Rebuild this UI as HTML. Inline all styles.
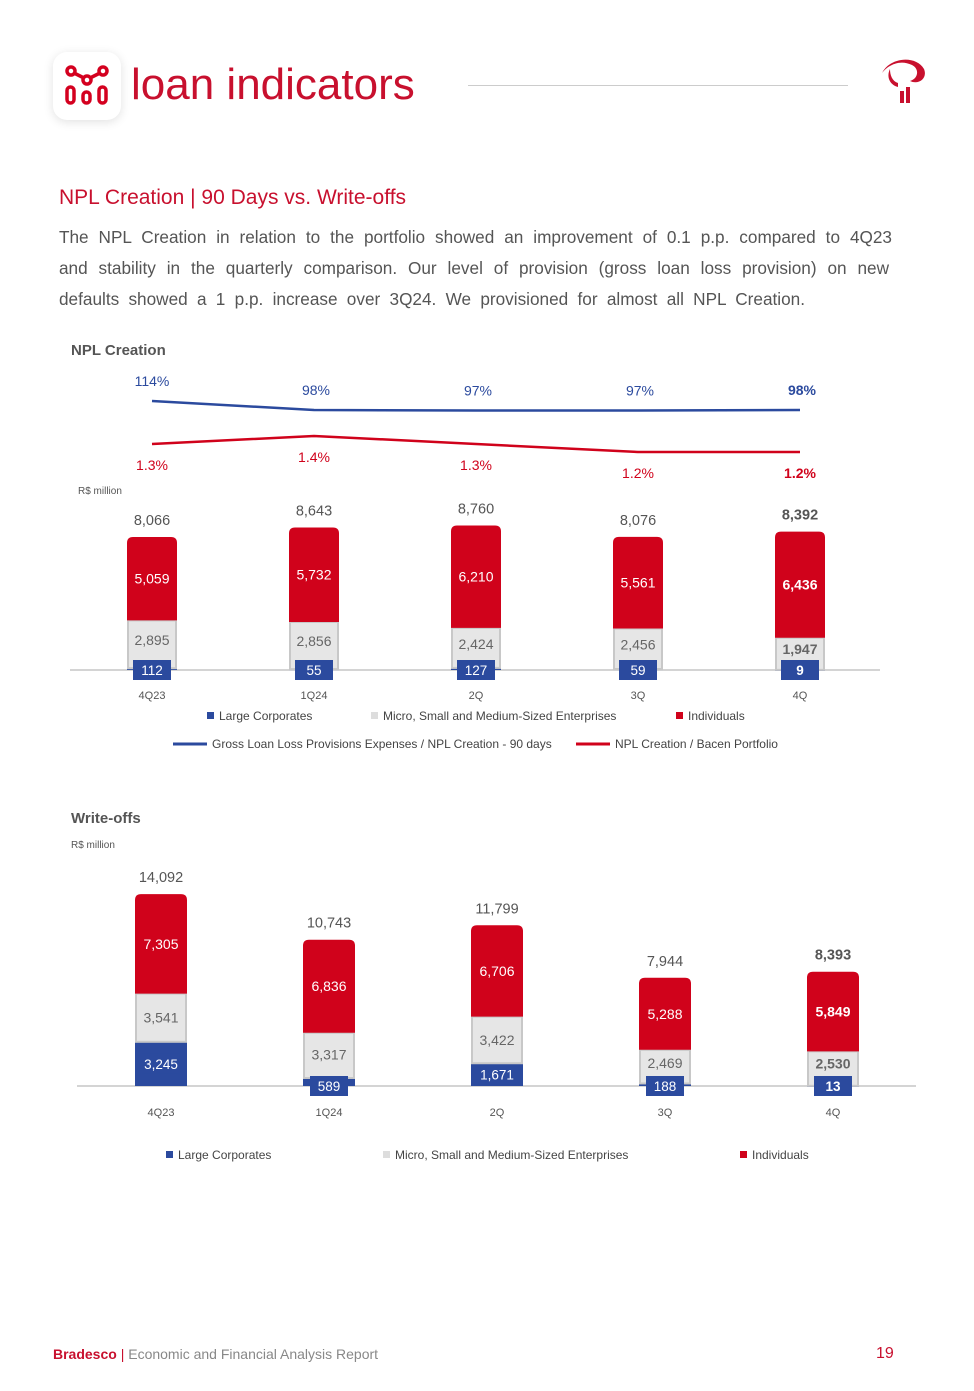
<!DOCTYPE html>
<html><head><meta charset="utf-8">
<style>
body{margin:0;width:974px;height:1391px;background:#fff;font-family:"Liberation Sans",sans-serif;position:relative;overflow:hidden}
.a{position:absolute;margin:0}
.ln{position:absolute;left:59px;font-size:17.2px;color:#555;white-space:nowrap;text-align:justify;text-align-last:justify}
</style></head><body>
<div class="a" style="left:53px;top:52px;width:68px;height:68px;border-radius:14px;background:#fff;box-shadow:0 2px 10px rgba(0,0,0,0.12)">
<svg width="68" height="68"><g fill="none" stroke="#d4001f" stroke-width="3.5">
<circle cx="18" cy="19" r="4"/><circle cx="34" cy="28" r="4"/><circle cx="50" cy="19" r="4"/>
<line x1="21" y1="21" x2="31" y2="26"/><line x1="37" y1="26" x2="47" y2="21"/>
<rect x="14" y="35" width="7" height="16" rx="3.5"/><rect x="30" y="40" width="7" height="11" rx="3.5"/><rect x="46" y="35" width="7" height="16" rx="3.5"/></g></svg></div>
<div class="a" style="left:131px;top:60px;font-size:44px;color:#c8102e;font-weight:300;letter-spacing:0px">loan indicators</div>
<div class="a" style="left:468px;top:85px;width:380px;height:1px;background:#ccc"></div>
<svg class="a" style="left:876px;top:55px" width="54" height="52">
<path d="M6 18 C14 2 40 0 48 14 C52 24 42 30 34 26 C42 24 44 14 36 10 C24 4 12 10 6 18Z" fill="#c8102e"/>
<path d="M14 14 C10 22 14 30 22 32 L22 28 C16 26 14 20 14 14Z" fill="#c8102e"/>
<rect x="24" y="36" width="4" height="12" fill="#c8102e"/><rect x="30" y="32" width="4" height="16" fill="#c8102e"/></svg>

<div class="a" style="left:59px;top:186px;font-size:21px;color:#c8102e">NPL Creation | 90 Days vs. Write-offs</div>
<div>
<div class="ln" style="top:227px;width:833px">The NPL Creation in relation to the portfolio showed an improvement of 0.1 p.p. compared to 4Q23</div>
<div class="ln" style="top:258px;width:830px">and stability in the quarterly comparison. Our level of provision (gross loan loss provision) on new</div>
<div class="ln" style="top:289px;width:746px">defaults showed a 1 p.p. increase over 3Q24. We provisioned for almost all NPL Creation.</div>
</div>

<div class="a" style="left:71px;top:342px;font-size:15px;font-weight:bold;color:#555">NPL Creation</div>
<div class="a" style="left:78px;top:486px;font-size:10px;color:#555">R$ million</div>
<div class="a" style="left:71px;top:810px;font-size:15px;font-weight:bold;color:#555">Write-offs</div>
<div class="a" style="left:71px;top:840px;font-size:10px;color:#555">R$ million</div>

<svg id="c" class="a" style="left:0;top:0" width="974" height="1391"></svg>

<div class="a" style="left:53px;top:1346px;font-size:14px;color:#888"><b style="color:#c8102e">Bradesco</b> <span style="color:#c8102e">|</span> Economic and Financial Analysis Report</div>
<div class="a" style="left:876px;top:1345px;font-size:16px;color:#c8102e">19</div>

<script>
const nplCats=["4Q23","1Q24","2Q","3Q","4Q"];
const nplLarge=[112,55,127,59,9];
const nplSme=[2895,2856,2424,2456,1947];
const nplInd=[5059,5732,6210,5561,6436];
const nplTotal=[8066,8643,8760,8076,8392];
const provRatio=[114,98,97,97,98];
const nplRatio=[1.3,1.4,1.3,1.2,1.2];
const woCats=["4Q23","1Q24","2Q","3Q","4Q"];
const woLarge=[3245,589,1671,188,13];
const woSme=[3541,3317,3422,2469,2530];
const woInd=[7305,6836,6706,5288,5849];
const woTotal=[14092,10743,11799,7944,8393];

const svg=document.getElementById('c');const NS="http://www.w3.org/2000/svg";
function mk(t,a,txt){const e=document.createElementNS(NS,t);for(const k in a)e.setAttribute(k,a[k]);if(txt!==undefined)e.textContent=txt;svg.appendChild(e);return e;}
const RED="#d0021b",BLUE="#2b4a9e",GRAY="#e6e6e6";
function fmt(v){return v.toLocaleString('en-US');}

function stacked(cats,L,S,I,T,x0,dx,base,scale,bw,axisX1,axisX2,catY,prefix){
  let ax=mk('line',{x1:axisX1,x2:axisX2,y1:base,y2:base,stroke:'#aaa','stroke-width':1});
  
  cats.forEach((c,i)=>{
    const cx=x0+i*dx,last=i===cats.length-1,fw=last?'bold':'normal';
    const hL=L[i]*scale,hS=S[i]*scale,hI=I[i]*scale;
    let r=mk('rect',{x:cx-bw/2,y:base-hL,width:bw,height:Math.max(hL,1),fill:BLUE});
    
    r=mk('rect',{x:cx-bw/2+1,y:base-hL-hS,width:bw-2,height:hS,fill:GRAY,stroke:'#c8c8c8','stroke-width':2});
    
    const top=base-hL-hS-hI;
    r=mk('path',{d:`M${cx-bw/2} ${base-hL-hS} V${top+6} Q${cx-bw/2} ${top} ${cx-bw/2+6} ${top} H${cx+bw/2-6} Q${cx+bw/2} ${top} ${cx+bw/2} ${top+6} V${base-hL-hS} Z`,fill:RED});
    
    let t=mk('text',{x:cx,y:top+hI/2+5,'text-anchor':'middle','font-size':14,fill:'#fff','font-weight':last?'bold':'normal'},fmt(I[i]));
    
    const bh=20,bwid=38;
    const small=hL<=22;
    const yb=small?base-10:base-hL/2-bh/2;
    const smeTop=base-hL-hS, smeBot=small?yb:base-hL;
    t=mk('text',{x:cx,y:(smeTop+smeBot)/2+5,'text-anchor':'middle','font-size':14,fill:'#666','font-weight':fw},fmt(S[i]));
    
    r=mk('rect',{x:cx-bwid/2,y:yb,width:bwid,height:bh,fill:BLUE});
    
    t=mk('text',{x:cx,y:yb+15,'text-anchor':'middle','font-size':13.5,fill:'#fff','font-weight':fw},fmt(L[i]));
    
    t=mk('text',{x:cx,y:top-12,'text-anchor':'middle','font-size':14.5,fill:'#555','font-weight':fw},fmt(T[i]));
    
    t=mk('text',{x:cx,y:catY,'text-anchor':'middle','font-size':11,fill:'#555'},c);
    
  });
}
stacked(nplCats,nplLarge,nplSme,nplInd,nplTotal,152,162,670,0.01649,50,70,880,699,'npl');
stacked(woCats,woLarge,woSme,woInd,woTotal,161,168,1086,0.01362,52,77,916,1116,'wo');

const lx=i=>152+i*162;
const by=v=>410-(v-98)*0.56, ry=v=>444-(v-1.3)*80;
let p=mk('path',{d:provRatio.map((v,i)=>(i?'L':'M')+lx(i)+' '+by(v)).join(' '),stroke:BLUE,'stroke-width':2.5,fill:'none'});

p=mk('path',{d:nplRatio.map((v,i)=>(i?'L':'M')+lx(i)+' '+ry(v)).join(' '),stroke:RED,'stroke-width':2.5,fill:'none'});

provRatio.forEach((v,i)=>{let t=mk('text',{x:lx(i)+(i?2:0),y:by(v)-15,'text-anchor':'middle','font-size':14,fill:BLUE,'font-weight':i===4?'bold':'normal'},v+'%');
});
nplRatio.forEach((v,i)=>{let t=mk('text',{x:lx(i),y:ry(v)+26,'text-anchor':'middle','font-size':14,fill:RED,'font-weight':i===4?'bold':'normal'},v.toFixed(1)+'%');
});

function legSq(x,y,col,txt,nm){let r=mk('rect',{x:x,y:y-8,width:7,height:7,fill:col});
let t=mk('text',{x:x+12,y:y,'font-size':12,fill:'#444'},txt);}
legSq(207,720,BLUE,'Large Corporates','legend-large');
legSq(371,720,'#ddd','Micro, Small and Medium-Sized Enterprises','legend-sme');
legSq(676,720,RED,'Individuals','legend-individuals');
let l=mk('line',{x1:173,x2:207,y1:744,y2:744,stroke:BLUE,'stroke-width':3});
let t=mk('text',{x:212,y:748,'font-size':12,fill:'#444'},'Gross Loan Loss Provisions Expenses / NPL Creation - 90 days');
l=mk('line',{x1:576,x2:610,y1:744,y2:744,stroke:RED,'stroke-width':3});
t=mk('text',{x:615,y:748,'font-size':12,fill:'#444'},'NPL Creation / Bacen Portfolio');
legSq(166,1159,BLUE,'Large Corporates','wo-legend-large');
legSq(383,1159,'#ddd','Micro, Small and Medium-Sized Enterprises','wo-legend-sme');
legSq(740,1159,RED,'Individuals','wo-legend-individuals');
</script>
</body></html>
